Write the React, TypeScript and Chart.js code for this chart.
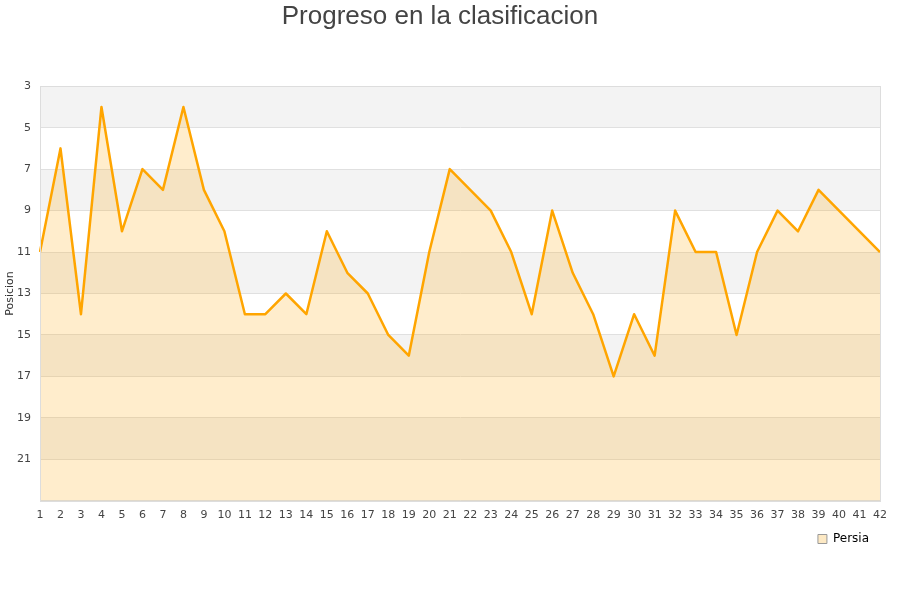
import { useEffect, useRef } from 'react';
import { Chart, registerables } from 'chart.js';

Chart.register(...registerables);

const jornadas = Array.from({ length: 42 }, (_, i) => String(i + 1));

const posiciones = [
  11, 6, 14, 4, 10, 7, 8, 4, 8, 10,
  14, 14, 13, 14, 10, 12, 13, 15, 16, 11,
  7, 8, 9, 11, 14, 9, 12, 14, 17, 14,
  16, 9, 11, 11, 15, 11, 9, 10, 8, 9,
  10, 11,
];

// alternating grey bands on the y axis
const bandas = [
  [3, 5],
  [7, 9],
  [11, 13],
  [15, 17],
  [19, 21],
];

const bandsPlugin = {
  id: 'bands',
  beforeDraw(chart: any) {
    const { ctx, chartArea, scales } = chart;
    const y = scales.y;
    ctx.save();
    ctx.fillStyle = '#f3f3f3';
    bandas.forEach(([a, b]) => {
      const top = y.getPixelForValue(a);
      const bottom = y.getPixelForValue(b);
      ctx.fillRect(chartArea.left, top, chartArea.right - chartArea.left, bottom - top);
    });
    ctx.restore();
  },
  afterDraw(chart: any) {
    const { ctx, chartArea } = chart;
    ctx.save();
    ctx.strokeStyle = '#dddddd';
    ctx.lineWidth = 1;
    ctx.strokeRect(
      Math.round(chartArea.left) + 0.5,
      Math.round(chartArea.top) + 0.5,
      Math.round(chartArea.right - chartArea.left),
      Math.round(chartArea.bottom - chartArea.top)
    );
    ctx.restore();
  },
};

export default function App() {
  const canvasRef = useRef<HTMLCanvasElement>(null);
  const chartRef = useRef<Chart | null>(null);

  useEffect(() => {
    if (!canvasRef.current) return;
    if (chartRef.current) chartRef.current.destroy();

    const ctx = canvasRef.current.getContext('2d');
    if (!ctx) return;

    chartRef.current = new Chart(ctx, {
      type: 'line',
      data: {
        labels: jornadas,
        datasets: [
          {
            label: 'Persia',
            data: posiciones,
            borderColor: '#ffa500',
            backgroundColor: 'rgba(255, 165, 0, 0.2)',
            borderWidth: 2.5,
            borderJoinStyle: 'round',
            fill: 'start',
            tension: 0,
            pointRadius: 0,
          },
        ],
      },
      options: {
        responsive: false,
        animation: false,
        layout: {
          padding: { left: 0, right: 20, top: 0, bottom: 45 },
        },
        plugins: {
          title: {
            display: true,
            text: 'Progreso en la clasificacion',
            color: '#444444',
            font: { family: 'Liberation Sans', size: 26, weight: 'normal' },
            padding: { top: 1, bottom: 54 },
          },
          legend: {
            position: 'bottom',
            align: 'end',
            labels: {
              boxWidth: 9,
              boxHeight: 9,
              padding: 11,
              color: '#222222',
              font: { family: 'DejaVu Sans', size: 12 },
              generateLabels: () => [
                {
                  text: 'Persia',
                  fillStyle: '#fde9c4',
                  strokeStyle: '#999999',
                  lineWidth: 1,
                  datasetIndex: 0,
                },
              ],
            },
          },
          tooltip: { enabled: false },
        },
        scales: {
          x: {
            offset: false,
            grid: { display: false },
            border: { color: '#dddddd' },
            ticks: {
              autoSkip: false,
              maxRotation: 0,
              color: '#444444',
              padding: 0,
              font: { family: 'DejaVu Sans', size: 11 },
            },
          },
          y: {
            reverse: true,
            min: 3,
            max: 23,
            afterFit: (scale: any) => {
              scale.width = 40;
            },
            title: {
              display: true,
              text: 'Posicion',
              color: '#333333',
              padding: { top: 4, bottom: 0 },
              font: { family: 'DejaVu Sans', size: 11 },
            },
            grid: { color: '#e0e0e0', drawTicks: false },
            border: { color: '#dddddd' },
            ticks: {
              stepSize: 2,
              color: '#444444',
              padding: 9,
              font: { family: 'DejaVu Sans', size: 11 },
              callback: (v: any) => (v === 23 ? '' : v),
            },
          },
        },
      },
      plugins: [bandsPlugin],
    });

    return () => {
      if (chartRef.current) {
        chartRef.current.destroy();
        chartRef.current = null;
      }
    };
  }, []);

  return (
    <div style={{ position: 'fixed', left: 0, top: 0, width: 900, height: 600, background: '#fff' }}>
      <canvas ref={canvasRef} width={900} height={600} />
    </div>
  );
}
